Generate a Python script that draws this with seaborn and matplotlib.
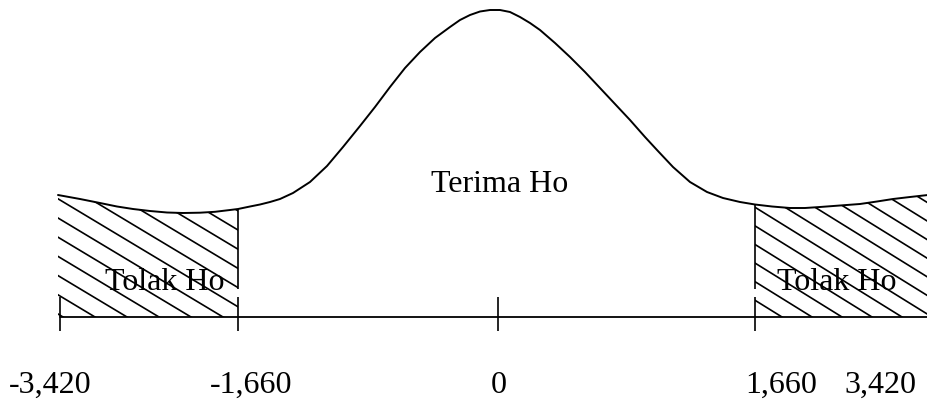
import numpy as np
import matplotlib
matplotlib.use("Agg")
import matplotlib.pyplot as plt
from matplotlib.patches import Polygon
from matplotlib.collections import LineCollection
import seaborn as sns
import pandas as pd

# curve (pixel-like units, y grows downward)
curve_x = [58, 80, 100, 117, 133, 150, 167, 183, 200, 215, 230, 238, 250, 260,
           270, 280, 293, 310, 327, 343, 360, 375, 390, 405, 420, 435, 450, 460,
           470, 480, 490, 500, 510, 520, 530, 540, 555, 570, 585, 600, 615,
           630, 645, 657, 673, 690, 707, 723, 740, 755, 772, 790, 805, 820,
           840, 860, 877, 893, 910, 928]
curve_y = [195, 199, 203, 206.5, 209, 211, 212.5, 213, 212.7, 211.8, 210, 209, 206.5, 204.5,
           202, 199, 193, 182, 166, 147, 126, 107, 87, 68, 52, 38, 27, 20,
           15, 11.5, 10, 10, 12, 17, 23, 30, 43, 57, 72, 88, 104,
           120, 137, 150, 167, 182, 192, 198, 202, 204.5, 206.5, 208, 208, 207,
           205.5, 204, 201.5, 199, 197, 195]

tick_labels = ["-3,420", "-1,660", "0", "1,660", "3,420"]
region_labels = ["Tolak Ho", "Terima Ho", "Tolak Ho"]

# layout
tick_pos = [60, 238, 498, 755]
label_pos = [50, 251, 499, 781, 880]
crit_left, crit_right = 238, 755
axis_y = 317
W, H = 928, 399

sns.set_theme(style="white")
plt.rcParams["font.family"] = ["Liberation Serif", "DejaVu Serif"]
plt.rcParams["text.color"] = "black"

fig = plt.figure(figsize=(W / 100, H / 100), dpi=100)
ax = fig.add_axes([0, 0, 1, 1])
ax.set_xlim(0, W)
ax.set_ylim(H, 0)
ax.axis("off")

df = pd.DataFrame({"x": curve_x, "y": curve_y})
sns.lineplot(data=df, x="x", y="y", sort=False, color="black", lw=1.4, ax=ax)

# axis line and ticks
ax.plot([tick_pos[0], W], [axis_y, axis_y], color="black", lw=1.3)
ax.vlines(tick_pos, axis_y - 20, axis_y + 14, color="black", lw=1.2)

# boundaries of rejection regions
cx = np.array(curve_x)
cy = np.array(curve_y)
for xb in (crit_left, crit_right):
    yb = np.interp(xb, cx, cy)
    ax.vlines(xb, yb, 289, color="black", lw=1.2)


def hatch(mask, x_lo, x_hi, slope, spacing, x_ref):
    pts = list(zip(cx[mask], cy[mask])) + [(x_hi, axis_y), (x_lo, axis_y)]
    poly = Polygon(pts, closed=True, facecolor="none", edgecolor="none")
    ax.add_patch(poly)
    segs = []
    for k in range(-12, 12):
        x0 = x_ref + k * spacing
        xa, xb_ = x_lo - 50, x_hi + 50
        segs.append([(xa, axis_y - slope * (x0 - xa)), (xb_, axis_y - slope * (x0 - xb_))])
    lc = LineCollection(segs, colors="black", linewidths=1.2)
    ax.add_collection(lc)
    lc.set_clip_path(poly)


hatch((cx >= 58) & (cx <= crit_left), 58, crit_left, 0.6, 32, 95)
hatch(cx >= crit_right, crit_right, W, 0.62, 30, 782)

fs = 23
ax.text(105, 290, region_labels[0], fontsize=fs, ha="left", va="baseline", color="black")
ax.text(500, 192, region_labels[1], fontsize=fs, ha="center", va="baseline", color="black")
ax.text(777, 290, region_labels[2], fontsize=fs, ha="left", va="baseline", color="black")
for xp, lab in zip(label_pos, tick_labels):
    ax.text(xp, 393, lab, fontsize=fs, ha="center", va="baseline", color="black")

fig.savefig("out.png", dpi=100, facecolor="white")
